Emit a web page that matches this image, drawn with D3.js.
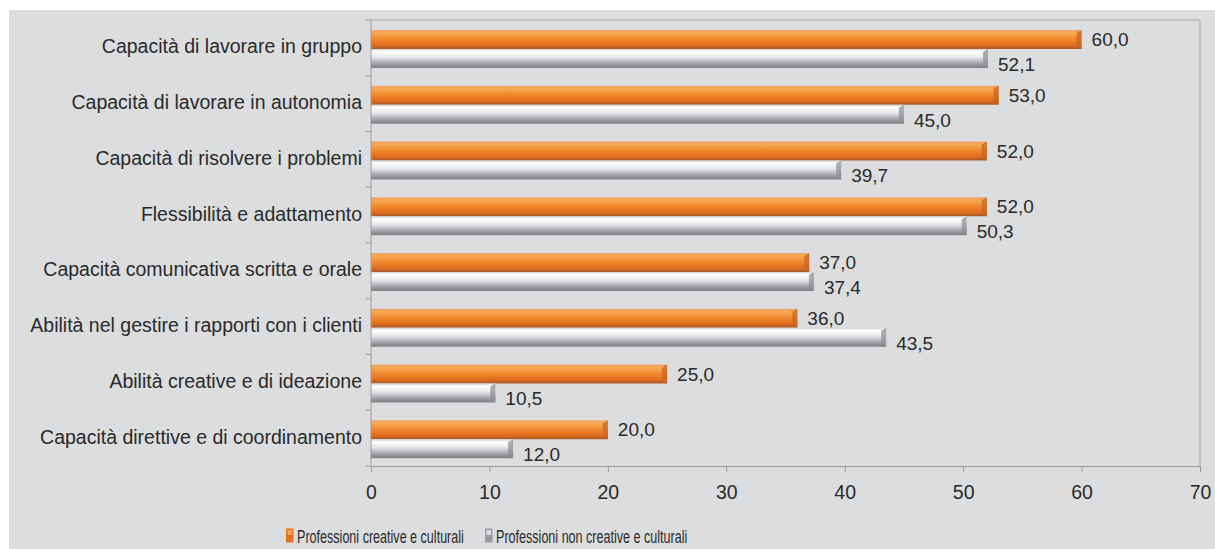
<!DOCTYPE html>
<html>
<head>
<meta charset="utf-8">
<script src="https://cdn.jsdelivr.net/npm/d3@7"></script>
<style>
  html, body { margin: 0; padding: 0; background: #ffffff; }
  svg { display: block; }
  text { font-family: "Liberation Sans", Arial, sans-serif; fill: #2a2a2a; }
</style>
</head>
<body>
<svg id="chart" width="1215" height="549"></svg>
<script>
// Competenze richieste: confronto tra professioni creative e non creative (%)
const categories = [
  "Capacità di lavorare in gruppo",
  "Capacità di lavorare in autonomia",
  "Capacità di risolvere i problemi",
  "Flessibilità e adattamento",
  "Capacità comunicativa scritta e orale",
  "Abilità nel gestire i rapporti con i clienti",
  "Abilità creative e di ideazione",
  "Capacità direttive e di coordinamento"
];
const creative = [60.0, 53.0, 52.0, 52.0, 37.0, 36.0, 25.0, 20.0];
const nonCreative = [52.1, 45.0, 39.7, 50.3, 37.4, 43.5, 10.5, 12.0];
const seriesNames = ["Professioni creative e culturali", "Professioni non creative e culturali"];
const xTicks = [0, 10, 20, 30, 40, 50, 60, 70];

const svg = d3.select("#chart");
const W = 1215, H = 549;
const m = { left: 371, right: 15, top: 20, bottom: 83 };
const plotW = W - m.left - m.right;
const plotH = H - m.top - m.bottom;

// grey panel background
svg.append("rect").attr("x", 9).attr("y", 10).attr("width", W - 9).attr("height", H - 10)
  .attr("fill", "#dcdddf");

// gradients for the bevelled bars
const defs = svg.append("defs");
const og = defs.append("linearGradient").attr("id", "gOrange").attr("x1", 0).attr("y1", 0).attr("x2", 0).attr("y2", 1);
[[0, "#eea068"], [0.15, "#f8a954"], [0.45, "#f28c32"], [0.8, "#e06c1c"], [1, "#a65a2c"]]
  .forEach(([o, c]) => og.append("stop").attr("offset", o).attr("stop-color", c));
const gg = defs.append("linearGradient").attr("id", "gGrey").attr("x1", 0).attr("y1", 0).attr("x2", 0).attr("y2", 1);
[[0, "#d4d5d7"], [0.15, "#ffffff"], [0.45, "#e4e5e7"], [0.75, "#a4a6aa"], [1, "#7a7c80"]]
  .forEach(([o, c]) => gg.append("stop").attr("offset", o).attr("stop-color", c));

const x = d3.scaleLinear().domain([0, 70]).range([0, plotW]);
const y = d3.scaleBand().domain(categories).range([0, plotH]);
const ySub = d3.scaleBand().domain([0, 1]).range([y.bandwidth() * 0.18, y.bandwidth() * 0.86]);

const g = svg.append("g").attr("transform", `translate(${m.left},${m.top})`);

// plot frame (top and right)
g.append("path")
  .attr("d", `M0,0H${plotW}V${plotH}`)
  .attr("fill", "none").attr("stroke", "#a8a9ab").attr("stroke-width", 1);

const fmt = v => d3.format(".1f")(v).replace(".", ",");
const series = [creative, nonCreative];
const fills = ["url(#gOrange)", "url(#gGrey)"];
const endCol = ["#c8661e", "#8e9094"];

series.forEach((vals, si) => {
  const grp = g.append("g");
  categories.forEach((c, i) => {
    const y0 = y(c) + ySub(si);
    const h = ySub.bandwidth();
    const w = x(vals[i]);
    grp.append("rect").attr("x", 0).attr("y", y0).attr("width", w).attr("height", h)
      .attr("fill", fills[si]);
    // bevelled end cap
    grp.append("path")
      .attr("d", `M${w - 5},${y0 + 3}L${w},${y0}V${y0 + h}L${w - 5},${y0 + h - 3}Z`)
      .attr("fill", endCol[si]).attr("opacity", 0.75);
    grp.append("text")
      .attr("x", w + 10)
      .attr("y", y0 + h / 2 + (si === 0 ? 6.5 : 12.5))
      .attr("font-size", 19)
      .text(fmt(vals[i]));
  });
});

// y axis
const yAxis = g.append("g").call(d3.axisLeft(y).tickSize(0).tickPadding(9));
yAxis.select(".domain").remove();
yAxis.selectAll("text").attr("font-size", 19.5).attr("dy", "0.28em").style("fill", "#2a2a2a");
// category separators as ticks
const sep = d3.range(categories.length + 1).map(k => k * y.step());
g.append("g").selectAll("line").data(sep).join("line")
  .attr("x1", -5).attr("x2", 0).attr("y1", d => d).attr("y2", d => d)
  .attr("stroke", "#9a9b9d");
g.append("line").attr("x1", 0).attr("x2", 0).attr("y1", 0).attr("y2", plotH)
  .attr("stroke", "#9a9b9d");

// x axis
const xAxis = g.append("g").attr("transform", `translate(0,${plotH})`)
  .call(d3.axisBottom(x).tickValues(xTicks).tickSize(6).tickPadding(13).tickFormat(d3.format("d")));
xAxis.select(".domain").attr("stroke", "#9a9b9d");
xAxis.selectAll("line").attr("stroke", "#9a9b9d");
xAxis.selectAll("text").attr("font-size", 19.5).style("fill", "#2a2a2a");

// legend (narrow lettering, horizontally condensed)
const leg = svg.append("g").attr("transform", "translate(286,542.5)");
const legX = [0, 199];
seriesNames.forEach((n, i) => {
  const lg = leg.append("g").attr("transform", `translate(${legX[i]},0)`);
  lg.append("rect").attr("x", 0).attr("y", -14).attr("width", 7.5).attr("height", 14)
    .attr("fill", i === 0 ? "#e0741e" : "#9a9ca0");
  lg.append("rect").attr("x", 1.5).attr("y", -12.5).attr("width", 4.5).attr("height", 5)
    .attr("fill", i === 0 ? "#f3a45c" : "#d6d7d9");
  lg.append("text")
    .attr("transform", "translate(11,0) scale(0.68,1)")
    .attr("font-size", 18.5)
    .text(n);
});
</script>
</body>
</html>
